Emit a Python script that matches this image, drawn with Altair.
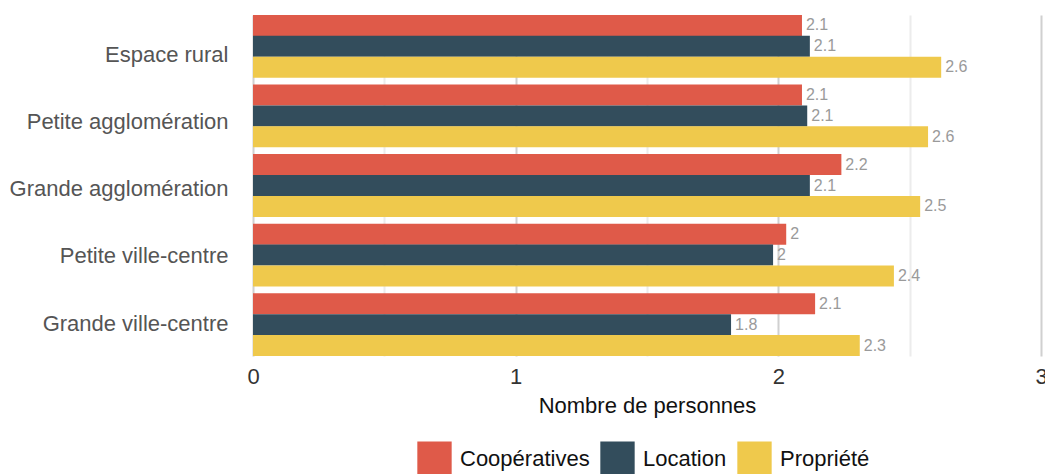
import altair as alt
import pandas as pd

# Average household size by type of area and housing status
categories = [
    "Espace rural",
    "Petite agglomération",
    "Grande agglomération",
    "Petite ville-centre",
    "Grande ville-centre",
]
series = ["Coopératives", "Location", "Propriété"]
cooperatives = [2.09, 2.09, 2.24, 2.03, 2.14]
location = [2.12, 2.11, 2.12, 1.98, 1.82]
propriete = [2.62, 2.57, 2.54, 2.44, 2.31]
colors = ["#DF5A49", "#334D5C", "#EFC94C"]
x_ticks = [0, 0.5, 1, 1.5, 2, 2.5, 3]

rows = []
for i, cat in enumerate(categories):
    for name, vals in zip(series, [cooperatives, location, propriete]):
        rows.append({"zone": cat, "statut": name, "valeur": vals[i]})
df = pd.DataFrame(rows)

FONT = "Liberation Sans"

y_enc = alt.Y(
    "zone:N",
    sort=categories,
    title=None,
    scale=alt.Scale(paddingInner=0.1, paddingOuter=0),
    axis=alt.Axis(
        domain=False,
        ticks=False,
        grid=False,
        labelFontSize=22,
        labelColor="#555555",
        labelPadding=25,
        labelLimit=400,
        labelOffset={
            "condition": [
                {"test": "datum.index < 0.1", "value": 9},
                {"test": "datum.index < 0.3", "value": 6.5},
                {"test": "datum.index < 0.6", "value": 3.5},
                {"test": "datum.index < 0.9", "value": 1},
            ],
            "value": -1,
        },
    ),
)
y_off = alt.YOffset(
    "statut:N", sort=series, scale=alt.Scale(paddingInner=0, paddingOuter=0)
)
x_enc = alt.X(
    "valeur:Q",
    title="Nombre de personnes",
    scale=alt.Scale(domain=[0, 3], nice=False),
    axis=alt.Axis(
        values=x_ticks,
        format="~g",
        domain=False,
        ticks=False,
        grid=True,
        gridColor={
            "condition": {"test": "datum.value % 1 === 0", "value": "#d0d0d0"},
            "value": "#ececec",
        },
        gridWidth=2,
        labelExpr="datum.value % 1 === 0 ? datum.label : ''",
        labelFlush=False,
        labelFontSize=22,
        labelColor="#333333",
        labelPadding=10,
        titleFontSize=22,
        titleFontWeight="normal",
        titleColor="#111111",
        titlePadding=8,
    ),
)

color_enc = alt.Color(
    "statut:N",
    sort=series,
    scale=alt.Scale(domain=series, range=colors),
    legend=alt.Legend(
        title=None,
        orient="none",
        legendX=164,
        legendY=426,
        direction="horizontal",
        symbolType="square",
        symbolSize=1180,
        symbolStrokeWidth=0,
        symbolOpacity=1,
        labelFontSize=22,
        labelColor="#111111",
        labelOffset=8,
        columnPadding=10,
        labelLimit=300,
    ),
)

base = alt.Chart(df).encode(y=y_enc, yOffset=y_off, x=x_enc)

bars = base.mark_bar(size=21).encode(color=color_enc)

labels = base.mark_text(
    align="left", baseline="middle", dx=4, fontSize=16, color="#9a9a9a"
).encode(text=alt.Text("valeur:Q", format=".2~r"))

chart = (
    alt.layer(bars, labels)
    .properties(
        width=788,
        height=341,
        padding={"left": 253, "top": 15, "right": 4, "bottom": 118},
        autosize="none",
    )
    .configure(font=FONT)
    .configure_view(stroke=None)
)

chart.save("out.html", embed_options={"renderer": "svg", "actions": False})
